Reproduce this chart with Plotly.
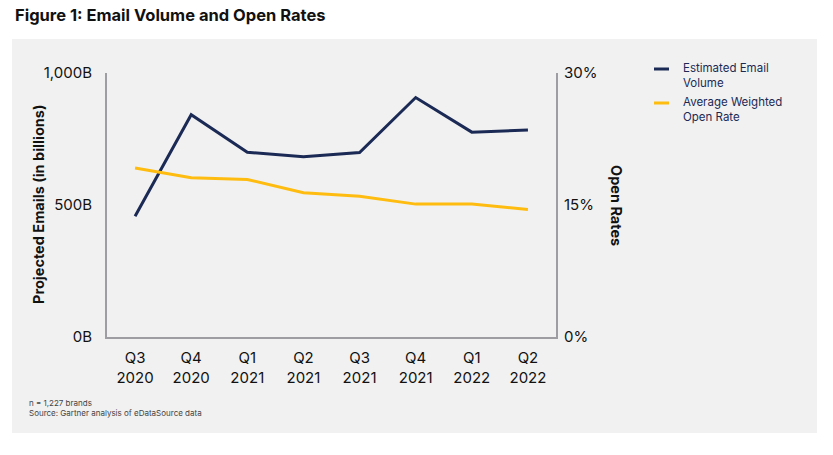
import plotly.graph_objects as go

quarters = ["Q3<br>2020", "Q4<br>2020", "Q1<br>2021", "Q2<br>2021",
            "Q3<br>2021", "Q4<br>2021", "Q1<br>2022", "Q2<br>2022"]
email_volume = [457, 842, 700, 683, 699, 907, 776, 784]      # billions
open_rate = [19.2, 18.1, 17.9, 16.4, 16.0, 15.1, 15.1, 14.5]  # percent

NAVY = "#1b2a55"
GOLD = "#ffbc10"
AXIS = "#9d9da2"
FONT = "Inter, Roboto, sans-serif"

W, H = 833, 455
L, R, T, B = 107, 556, 73, 337


def px(x):
    return (x - L) / (R - L)


def py(y):
    return (B - y) / (B - T)


fig = go.Figure()
fig.add_trace(go.Scatter(x=quarters, y=email_volume, mode="lines",
                         line=dict(color=NAVY, width=3), name="Estimated Email Volume",
                         showlegend=False))
fig.add_trace(go.Scatter(x=quarters, y=open_rate, mode="lines", yaxis="y2",
                         line=dict(color=GOLD, width=3), name="Average Weighted Open Rate",
                         showlegend=False))

shapes = [
    dict(type="rect", xref="paper", yref="paper", x0=px(12), x1=px(817), y0=py(433), y1=py(39),
         fillcolor="#f1f1f1", line=dict(width=0), layer="below"),
    dict(type="line", xref="paper", yref="paper", x0=px(654), x1=px(669), y0=py(69), y1=py(69),
         line=dict(color=NAVY, width=3)),
    dict(type="line", xref="paper", yref="paper", x0=px(654), x1=px(669), y0=py(103), y1=py(103),
         line=dict(color=GOLD, width=3)),
]

annotations = [
    dict(text="<b>Figure 1: Email Volume and Open Rates</b>", xref="paper", yref="paper",
         x=px(13), y=py(15), xanchor="left", yanchor="middle", showarrow=False,
         font=dict(family=FONT, size=16.5, color="#111")),
    dict(text="<b>Projected Emails (in billions)</b>", xref="paper", yref="paper",
         x=px(38), y=py(205), textangle=-90, showarrow=False, xanchor="center", yanchor="middle",
         font=dict(family=FONT, size=14.5, color="#111")),
    dict(text="<b>Open Rates</b>", xref="paper", yref="paper",
         x=px(617), y=py(205), textangle=90, showarrow=False, xanchor="center", yanchor="middle",
         font=dict(family=FONT, size=14.5, color="#111")),
    dict(text="Estimated Email<br>Volume", xref="paper", yref="paper", x=px(681), y=py(59),
         xanchor="left", yanchor="top", align="left", showarrow=False,
         font=dict(family=FONT, size=11.5, color="#1b2a55")),
    dict(text="Average Weighted<br>Open Rate", xref="paper", yref="paper", x=px(681), y=py(93),
         xanchor="left", yanchor="top", align="left", showarrow=False,
         font=dict(family=FONT, size=11.5, color="#1b2a55")),
    dict(text="n = 1,227 brands<br>Source: Gartner analysis of eDataSource data", xref="paper",
         yref="paper", x=px(27), y=py(396), xanchor="left", yanchor="top", align="left",
         showarrow=False, font=dict(family=FONT, size=8, color="#444")),
]

fig.update_layout(
    width=W, height=H,
    margin=dict(l=L, r=W - R, t=T, b=H - B, pad=0),
    paper_bgcolor="white", plot_bgcolor="rgba(0,0,0,0)",
    font=dict(family=FONT, color="#111"),
    showlegend=False,
    xaxis=dict(type="category", range=[-0.5, 7.5], showgrid=False, zeroline=False,
               showline=True, linecolor=AXIS, linewidth=2, ticks="",
               ticklabelstandoff=6,
               tickfont=dict(family=FONT, size=15, color="#111")),
    yaxis=dict(range=[0, 1000], tickvals=[0, 500, 1000], ticktext=["0B", "500B", "1,000B"],
               showgrid=False, zeroline=False, showline=True, linecolor=AXIS, linewidth=2,
               ticks="", ticklabelstandoff=10,
               tickfont=dict(family=FONT, size=15, color="#111")),
    yaxis2=dict(range=[0, 30], tickvals=[0, 15, 30], ticktext=["0%", "15%", "30%"],
                overlaying="y", side="right", showgrid=False, zeroline=False,
                showline=True, linecolor=AXIS, linewidth=2, ticks="", ticklabelstandoff=3,
                tickfont=dict(family=FONT, size=15, color="#111")),
    shapes=shapes,
    annotations=annotations,
)

fig.write_html("out.html", config={"displayModeBar": False},
               post_script="document.body.style.margin='0';")
